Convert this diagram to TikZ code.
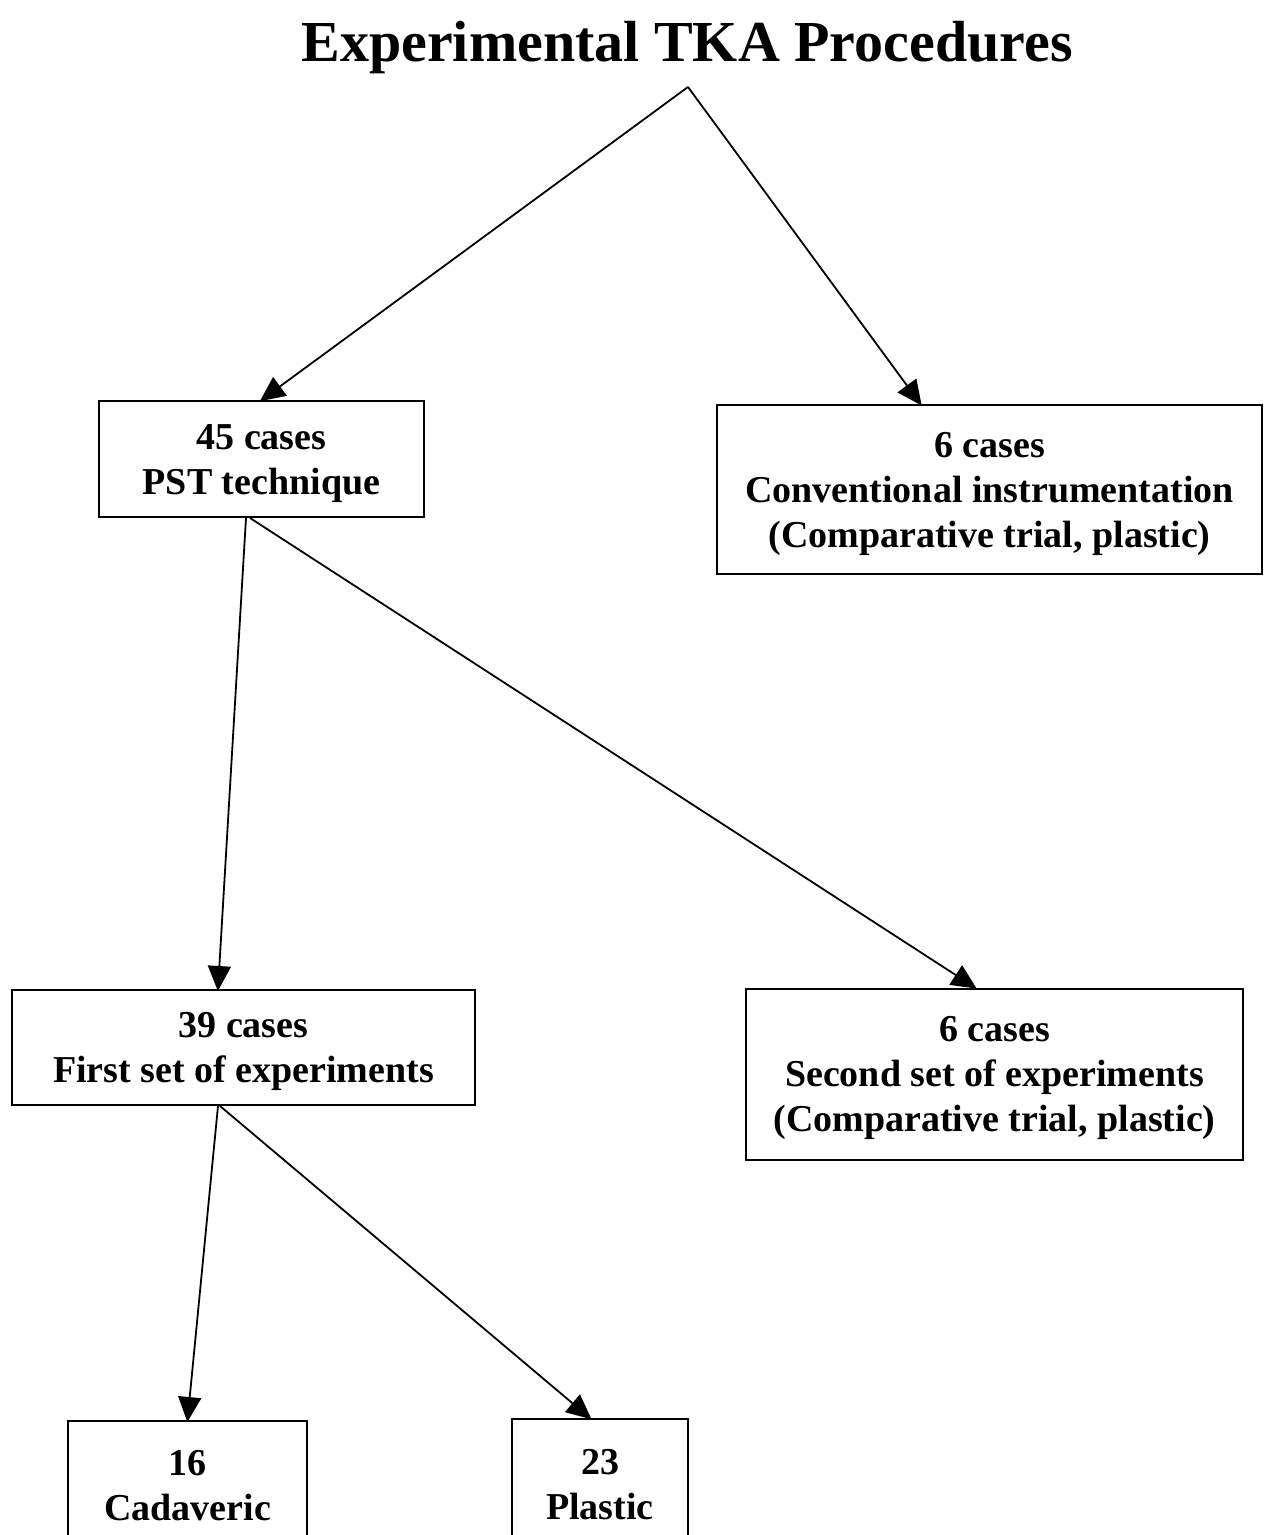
\documentclass[tikz,border=0pt]{standalone}
\usepackage{fontspec}
\setmainfont{Liberation Serif}
\usetikzlibrary{arrows.meta,calc}
\newcommand{\topstrut}{\rule{0pt}{16.8pt}}
\tikzset{
  box/.style={draw=black, line width=1pt, rectangle, align=center, inner sep=0pt,
    font=\fontsize{19}{22.5}\selectfont\bfseries},
  conn/.style={draw=black, line width=0.9pt, -{Triangle[length=12.5pt,width=11.5pt]}, shorten >=-1pt},
}
\begin{document}
\begin{tikzpicture}[x=0.5pt,y=-0.5pt]
\useasboundingbox (0,0) rectangle (1264,1535);
\clip (0,0) rectangle (1264,1535);
\node[font=\fontsize{29}{34}\selectfont\bfseries, anchor=base] (title) at (687,62) {Experimental TKA Procedures};
\coordinate (apex) at (688,87);
\node[box, minimum width=162.5pt, minimum height=58pt] (b45) at (261.5,459) {\topstrut45 cases\\PST technique};
\node[box, minimum width=272.5pt, minimum height=84.5pt] (conv) at (989.5,489.5) {\topstrut6 cases\\Conventional instrumentation\\(Comparative trial, plastic)};
\node[box, minimum width=231.5pt, minimum height=57.5pt] (b39) at (243.5,1047.5) {\topstrut39 cases\\First set of experiments};
\node[box, minimum width=248.5pt, minimum height=85.5pt] (second) at (994.5,1074) {\topstrut6 cases\\Second set of experiments\\(Comparative trial, plastic)};
\node[box, minimum width=119.5pt, minimum height=60pt] (b16) at (187.5,1481) {\topstrut16\\Cadaveric};
\node[box, minimum width=88pt, minimum height=61pt] (b23) at (600,1480) {\topstrut23\\Plastic};
\draw[conn] (apex) -- (b45.north);
\draw[conn] (apex) -- ([xshift=-34.5pt]conv.north);
\draw[conn] ([xshift=-7.75pt]b45.south) -- ([xshift=-12.75pt]b39.north);
\draw[conn] ([xshift=-5.75pt]b45.south) -- ([xshift=-9.75pt]second.north);
\draw[conn] ([xshift=-12.75pt]b39.south) -- (b16.north);
\draw[conn] ([xshift=-11.75pt]b39.south) -- ([xshift=-5pt]b23.north);
\end{tikzpicture}
\end{document}
